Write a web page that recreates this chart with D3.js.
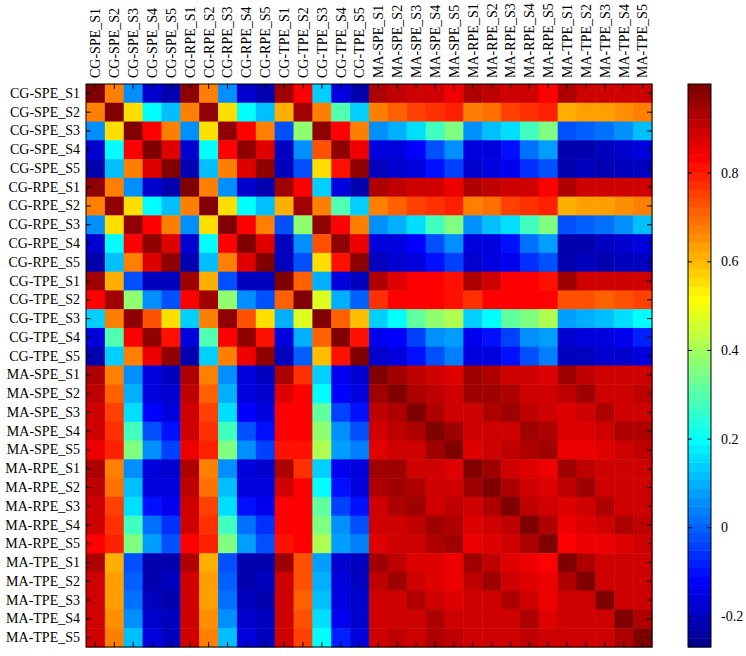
<!DOCTYPE html>
<html><head><meta charset="utf-8">
<script src="https://cdn.jsdelivr.net/npm/d3@7"></script>
<style>
body{margin:0;background:#fff}
svg{display:block}
svg text{font-family:"Liberation Serif","Times New Roman",serif !important;}
</style>
</head><body>
<svg id="chart" width="746" height="656"></svg>
<script>
const labels = [
 "CG-SPE_S1","CG-SPE_S2","CG-SPE_S3","CG-SPE_S4","CG-SPE_S5",
 "CG-RPE_S1","CG-RPE_S2","CG-RPE_S3","CG-RPE_S4","CG-RPE_S5",
 "CG-TPE_S1","CG-TPE_S2","CG-TPE_S3","CG-TPE_S4","CG-TPE_S5",
 "MA-SPE_S1","MA-SPE_S2","MA-SPE_S3","MA-SPE_S4","MA-SPE_S5",
 "MA-RPE_S1","MA-RPE_S2","MA-RPE_S3","MA-RPE_S4","MA-RPE_S5",
 "MA-TPE_S1","MA-TPE_S2","MA-TPE_S3","MA-TPE_S4","MA-TPE_S5"
];

// correlation matrix, one row per label
const corr = [
 [1.00,0.68,0.05,-0.19,-0.22, 0.98,0.68,0.05,-0.19,-0.22, 0.96,0.83,0.14,-0.155,-0.23, 0.94,0.92,0.89,0.89,0.85, 0.94,0.92,0.895,0.89,0.84, 0.94,0.90,0.90,0.90,0.89],
 [0.68,1.00,0.55,0.20,0.11, 0.68,0.98,0.55,0.20,0.11, 0.62,0.95,0.67,0.30,0.13, 0.68,0.71,0.76,0.78,0.80, 0.67,0.70,0.75,0.78,0.80, 0.62,0.63,0.63,0.645,0.68],
 [0.05,0.55,1.00,0.84,0.68, 0.05,0.55,0.97,0.84,0.68, -0.03,0.37,0.98,0.84,0.68, 0.05,0.095,0.16,0.27,0.35, 0.05,0.11,0.16,0.27,0.36, -0.015,0.0,0.01,0.05,0.11],
 [-0.19,0.20,0.84,1.00,0.88, -0.19,0.20,0.84,0.97,0.88, -0.20,0.05,0.73,0.98,0.86, -0.17,-0.165,-0.13,-0.02,0.05, -0.17,-0.155,-0.11,0.02,0.08, -0.22,-0.22,-0.21,-0.19,-0.155],
 [-0.22,0.11,0.68,0.88,1.00, -0.22,0.11,0.68,0.88,0.97, -0.20,-0.03,0.555,0.81,0.97, -0.20,-0.19,-0.165,-0.11,-0.04, -0.19,-0.17,-0.15,-0.07,-0.015, -0.22,-0.21,-0.22,-0.21,-0.21],
 [0.98,0.68,0.05,-0.19,-0.22, 1.00,0.68,0.05,-0.19,-0.22, 0.96,0.83,0.14,-0.155,-0.23, 0.94,0.92,0.89,0.89,0.85, 0.94,0.92,0.895,0.89,0.84, 0.94,0.90,0.90,0.90,0.89],
 [0.68,0.98,0.55,0.20,0.11, 0.68,1.00,0.55,0.20,0.11, 0.62,0.95,0.67,0.30,0.13, 0.68,0.71,0.76,0.78,0.80, 0.67,0.70,0.75,0.78,0.80, 0.62,0.63,0.63,0.645,0.68],
 [0.05,0.55,0.97,0.84,0.68, 0.05,0.55,1.00,0.84,0.68, -0.03,0.37,0.98,0.84,0.68, 0.05,0.095,0.16,0.27,0.35, 0.05,0.11,0.16,0.27,0.36, -0.015,0.0,0.01,0.05,0.11],
 [-0.19,0.20,0.84,0.97,0.88, -0.19,0.20,0.84,1.00,0.88, -0.20,0.05,0.73,0.98,0.86, -0.17,-0.165,-0.13,-0.02,0.05, -0.17,-0.155,-0.11,0.02,0.08, -0.22,-0.22,-0.21,-0.19,-0.155],
 [-0.22,0.11,0.68,0.88,0.97, -0.22,0.11,0.68,0.88,1.00, -0.20,-0.03,0.555,0.81,0.97, -0.20,-0.19,-0.165,-0.11,-0.04, -0.19,-0.17,-0.15,-0.07,-0.015, -0.22,-0.21,-0.22,-0.21,-0.21],
 [0.96,0.62,-0.03,-0.20,-0.20, 0.96,0.62,-0.03,-0.20,-0.20, 1.00,0.71,0.09,-0.17,-0.20, 0.93,0.88,0.84,0.84,0.82, 0.93,0.89,0.84,0.84,0.805, 0.945,0.90,0.89,0.895,0.89],
 [0.83,0.95,0.37,0.05,-0.03, 0.83,0.95,0.37,0.05,-0.03, 0.71,1.00,0.476,0.095,0.0, 0.77,0.84,0.84,0.84,0.82, 0.78,0.835,0.84,0.84,0.835, 0.73,0.74,0.71,0.73,0.76],
 [0.14,0.67,0.98,0.73,0.555, 0.14,0.67,0.98,0.73,0.555, 0.09,0.476,1.00,0.71,0.60, 0.135,0.20,0.325,0.365,0.405, 0.135,0.20,0.315,0.36,0.41, 0.08,0.10,0.11,0.15,0.20],
 [-0.155,0.30,0.84,0.98,0.81, -0.155,0.30,0.84,0.98,0.81, -0.17,0.095,0.71,1.00,0.81, -0.15,-0.125,-0.04,0.05,0.085, -0.15,-0.10,-0.035,0.05,0.085, -0.18,-0.17,-0.16,-0.15,-0.08],
 [-0.23,0.13,0.68,0.86,0.97, -0.23,0.13,0.68,0.86,0.97, -0.20,0.0,0.60,0.81,1.00, -0.175,-0.165,-0.11,-0.02,0.035, -0.17,-0.155,-0.10,-0.015,0.045, -0.205,-0.20,-0.19,-0.175,-0.17],
 [0.94,0.68,0.05,-0.17,-0.20, 0.94,0.68,0.05,-0.17,-0.20, 0.93,0.77,0.135,-0.15,-0.175, 1.00,0.95,0.91,0.90,0.88, 0.945,0.94,0.90,0.89,0.87, 0.95,0.92,0.90,0.90,0.90],
 [0.92,0.71,0.095,-0.165,-0.19, 0.92,0.71,0.095,-0.165,-0.19, 0.88,0.84,0.20,-0.125,-0.165, 0.95,1.00,0.93,0.91,0.895, 0.95,0.96,0.925,0.90,0.895, 0.91,0.95,0.90,0.90,0.91],
 [0.89,0.76,0.16,-0.13,-0.165, 0.89,0.76,0.16,-0.13,-0.165, 0.84,0.84,0.325,-0.04,-0.11, 0.91,0.93,1.00,0.93,0.90, 0.89,0.925,0.955,0.92,0.90, 0.87,0.90,0.925,0.90,0.90],
 [0.89,0.78,0.27,-0.02,-0.11, 0.89,0.78,0.27,-0.02,-0.11, 0.84,0.84,0.365,0.05,-0.02, 0.90,0.91,0.93,1.00,0.945, 0.89,0.90,0.90,0.955,0.935, 0.865,0.88,0.90,0.935,0.925],
 [0.85,0.80,0.35,0.05,-0.04, 0.85,0.80,0.35,0.05,-0.04, 0.82,0.82,0.405,0.085,0.035, 0.88,0.895,0.90,0.945,1.00, 0.88,0.895,0.91,0.935,0.955, 0.85,0.86,0.865,0.90,0.92],
 [0.94,0.67,0.05,-0.17,-0.19, 0.94,0.67,0.05,-0.17,-0.19, 0.93,0.78,0.135,-0.15,-0.17, 0.945,0.95,0.89,0.89,0.88, 1.00,0.955,0.90,0.875,0.86, 0.955,0.92,0.90,0.90,0.90],
 [0.92,0.70,0.11,-0.155,-0.17, 0.92,0.70,0.11,-0.155,-0.17, 0.89,0.835,0.20,-0.10,-0.155, 0.94,0.96,0.925,0.90,0.895, 0.955,1.00,0.925,0.895,0.88, 0.91,0.955,0.90,0.90,0.90],
 [0.895,0.75,0.16,-0.11,-0.15, 0.895,0.75,0.16,-0.11,-0.15, 0.84,0.84,0.315,-0.035,-0.10, 0.90,0.925,0.955,0.90,0.91, 0.90,0.925,1.00,0.91,0.895, 0.87,0.895,0.93,0.90,0.90],
 [0.89,0.78,0.27,0.02,-0.07, 0.89,0.78,0.27,0.02,-0.07, 0.84,0.84,0.36,0.05,-0.015, 0.89,0.90,0.92,0.955,0.935, 0.875,0.895,0.91,1.00,0.93, 0.86,0.88,0.89,0.925,0.91],
 [0.84,0.80,0.36,0.08,-0.015, 0.84,0.80,0.36,0.08,-0.015, 0.805,0.835,0.41,0.085,0.045, 0.87,0.895,0.90,0.935,0.955, 0.86,0.88,0.895,0.93,1.00, 0.84,0.85,0.855,0.87,0.90],
 [0.94,0.62,-0.015,-0.22,-0.22, 0.94,0.62,-0.015,-0.22,-0.22, 0.945,0.73,0.08,-0.18,-0.205, 0.95,0.91,0.87,0.865,0.85, 0.955,0.91,0.87,0.86,0.84, 1.00,0.93,0.90,0.90,0.90],
 [0.90,0.63,0.0,-0.22,-0.21, 0.90,0.63,0.0,-0.22,-0.21, 0.90,0.74,0.10,-0.17,-0.20, 0.92,0.95,0.90,0.88,0.86, 0.92,0.955,0.895,0.88,0.85, 0.93,1.00,0.90,0.90,0.90],
 [0.90,0.63,0.01,-0.21,-0.22, 0.90,0.63,0.01,-0.21,-0.22, 0.89,0.71,0.11,-0.16,-0.19, 0.89,0.90,0.925,0.90,0.865, 0.90,0.90,0.93,0.89,0.855, 0.90,0.90,1.00,0.90,0.90],
 [0.90,0.645,0.05,-0.19,-0.21, 0.90,0.645,0.05,-0.19,-0.21, 0.895,0.73,0.15,-0.15,-0.175, 0.90,0.90,0.90,0.935,0.90, 0.90,0.90,0.90,0.925,0.87, 0.90,0.90,0.90,1.00,0.93],
 [0.89,0.68,0.11,-0.155,-0.21, 0.89,0.68,0.11,-0.155,-0.21, 0.89,0.76,0.20,-0.08,-0.17, 0.90,0.91,0.90,0.925,0.92, 0.90,0.90,0.90,0.91,0.90, 0.90,0.90,0.90,0.93,1.00]
];

const colorDomain = [-0.27, 1.0];
const colorTicks = [-0.2, 0, 0.2, 0.4, 0.6, 0.8];
const colorTickLabels = ["-0.2", "0", "0.2", "0.4", "0.6", "0.8"];
const nColors = 64;
const FONT = '"Liberation Serif","Times New Roman",serif';

// MATLAB-style jet(64)
function jetMap(m) {
  const n = Math.ceil(m / 4);
  const u = [];
  for (let i = 1; i <= n; i++) u.push(i / n);
  for (let i = 1; i < n; i++) u.push(1);
  for (let i = n; i >= 1; i--) u.push(i / n);
  const gOff = Math.ceil(n / 2) - (m % 4 === 1 ? 1 : 0);
  const J = Array.from({length: m}, () => [0, 0, 0]);
  for (let k = 0; k < u.length; k++) {
    const g = gOff + k + 1, r = g + n, b = g - n;
    if (r >= 1 && r <= m) J[r - 1][0] = u[k];
    if (g >= 1 && g <= m) J[g - 1][1] = u[k];
    if (b >= 1 && b <= m) J[b - 1][2] = u[k];
  }
  return J.map(c => d3.rgb(c[0] * 255, c[1] * 255, c[2] * 255).formatHex());
}
const palette = jetMap(nColors);
const color = d3.scaleQuantize().domain(colorDomain).range(palette);

const svg = d3.select("#chart");
const L = 86, R = 652, T = 84, B = 647;

const x = d3.scaleBand().domain(labels).range([L, R]);
const y = d3.scaleBand().domain(labels).range([T, B]);

const cells = [];
corr.forEach((row, i) => row.forEach((v, j) => cells.push({r: labels[i], c: labels[j], v})));

svg.append("g").selectAll("rect").data(cells).join("rect")
  .attr("x", d => x(d.c)).attr("y", d => y(d.r))
  .attr("width", x.bandwidth() + 0.5).attr("height", y.bandwidth() + 0.5)
  .attr("fill", d => color(d.v));

// axes with inward ticks
const axL = svg.append("g").attr("transform", `translate(${L},0)`)
  .call(d3.axisLeft(y).tickSize(-5).tickPadding(6));
axL.attr("font-family", FONT);
axL.select(".domain").remove();
axL.selectAll("text").attr("font-size", 14).attr("fill", "#000");
axL.selectAll("line").attr("stroke", "#000");

const axT = svg.append("g").attr("transform", `translate(0,${T})`)
  .call(d3.axisTop(x).tickSize(-5));
axT.attr("font-family", FONT);
axT.select(".domain").remove();
axT.selectAll("text")
  .attr("transform", "rotate(-90)")
  .attr("x", 6).attr("y", 0).attr("dy", "0.35em")
  .attr("text-anchor", "start").attr("font-size", 14).attr("fill", "#000");
axT.selectAll("line").attr("stroke", "#000");

const axR = svg.append("g").attr("transform", `translate(${R},0)`)
  .call(d3.axisRight(y).tickSize(-5).tickFormat(""));
axR.select(".domain").remove();
axR.selectAll("line").attr("stroke", "#000");

const axB = svg.append("g").attr("transform", `translate(0,${B})`)
  .call(d3.axisBottom(x).tickSize(-5).tickFormat(""));
axB.select(".domain").remove();
axB.selectAll("line").attr("stroke", "#000");

svg.append("rect").attr("x", L).attr("y", T).attr("width", R - L).attr("height", B - T)
  .attr("fill", "none").attr("stroke", "#000").attr("stroke-width", 1);

// colorbar
const CL = 688, CR = 711;
const cy = d3.scaleLinear().domain(colorDomain).range([B, T]);
const step = (colorDomain[1] - colorDomain[0]) / nColors;
const bands = palette.map((c, i) => ({c, lo: colorDomain[0] + i * step, hi: colorDomain[0] + (i + 1) * step}));
svg.append("g").selectAll("rect").data(bands).join("rect")
  .attr("x", CL).attr("width", CR - CL)
  .attr("y", d => cy(d.hi)).attr("height", d => cy(d.lo) - cy(d.hi) + 0.5)
  .attr("fill", d => d.c);

const cax = svg.append("g").attr("transform", `translate(${CR},0)`)
  .call(d3.axisRight(cy).tickValues(colorTicks).tickSize(-4).tickPadding(10)
    .tickFormat((d, i) => colorTickLabels[i]));
cax.attr("font-family", FONT);
cax.select(".domain").remove();
cax.selectAll("text").attr("font-size", 14).attr("fill", "#000");
cax.selectAll("line").attr("stroke", "#000");
const caxL = svg.append("g").attr("transform", `translate(${CL},0)`)
  .call(d3.axisLeft(cy).tickValues(colorTicks).tickSize(-4).tickFormat(""));
caxL.select(".domain").remove();
caxL.selectAll("line").attr("stroke", "#000");

svg.append("rect").attr("x", CL).attr("y", T).attr("width", CR - CL).attr("height", B - T)
  .attr("fill", "none").attr("stroke", "#000").attr("stroke-width", 1);
</script>
</body></html>
